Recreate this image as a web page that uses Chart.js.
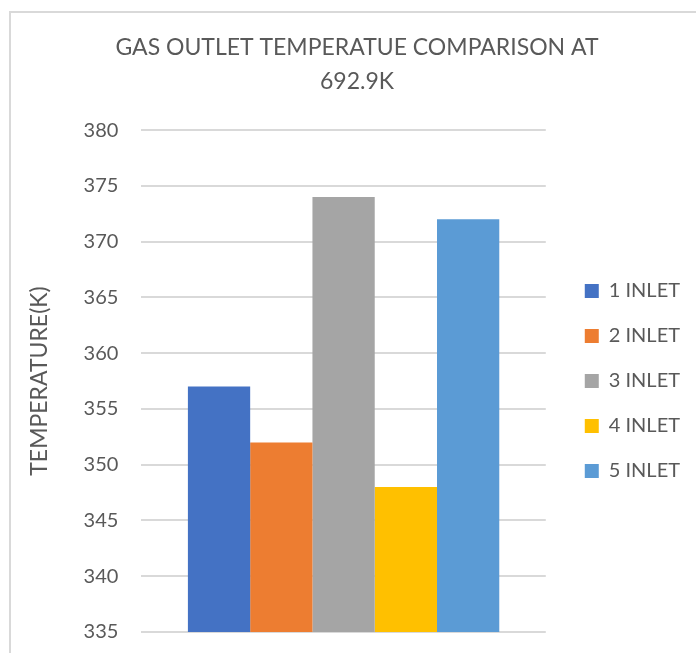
<!DOCTYPE html>
<html>
<head>
<meta charset="utf-8">
<script src="https://cdn.jsdelivr.net/npm/chart.js@4.4.0/dist/chart.umd.min.js"></script>
<style>
    body { margin: 0; overflow: hidden; background: #fff; }
    #frame {
        position: absolute; left: 9px; top: 11px;
        width: 800px; height: 800px;
        border: 2px solid #d9d9d9;
    }
    #wrap { position: absolute; left: 0; top: 0; width: 696px; height: 653px; }
</style>
</head>
<body>
<div id="frame"></div>
<div id="wrap"><canvas id="gasChart"></canvas></div>
<script>
// chart data
const categories = [''];
const seriesNames = ['1 INLET', '2 INLET', '3 INLET', '4 INLET', '5 INLET'];
const seriesValues = [357, 352, 374, 348, 372];
const seriesColors = ['#4472C4', '#ED7D31', '#A5A5A5', '#FFC000', '#5B9BD5'];
const titleLines = ['GAS OUTLET TEMPERATUE COMPARISON AT', '692.9K'];
const yAxisTitle = 'TEMPERATURE(K)';
const yMin = 335;
const yMax = 380;
const yStep = 5;

const textColor = '#595959';
const fontFamily = 'Lato, "Open Sans", sans-serif';

// move the legend right of the plot and down next to it, and the title a
// little to the right, like the Excel original
const layoutShift = {
    id: 'layoutShift',
    afterLayout(chart) {
        chart.legend.left += 14;
        chart.legend.right += 14;
        chart.legend.top += 65;
        chart.legend.bottom += 65;
        chart.titleBlock.left += 12;
        chart.titleBlock.right += 12;
    }
};

const ctx = document.getElementById('gasChart').getContext('2d');

const gasChart = new Chart(ctx, {
    type: 'bar',
    data: {
        labels: categories,
        datasets: seriesNames.map((name, i) => ({
            label: name,
            data: [seriesValues[i]],
            backgroundColor: seriesColors[i],
            borderWidth: 0,
            categoryPercentage: 0.77,
            barPercentage: 1.0
        }))
    },
    options: {
        responsive: true,
        maintainAspectRatio: false,
        animation: false,
        layout: {
            padding: { left: 14, right: 20, top: 0, bottom: 21 }
        },
        plugins: {
            title: {
                display: true,
                text: titleLines,
                color: textColor,
                font: { family: fontFamily, size: 23, weight: 'normal', lineHeight: 1.48 },
                padding: { top: 31, bottom: 31 }
            },
            legend: {
                position: 'right',
                labels: {
                    color: textColor,
                    font: { family: fontFamily, size: 20 },
                    boxWidth: 14,
                    boxHeight: 14,
                    padding: 25
                }
            },
            tooltip: { enabled: false }
        },
        scales: {
            x: {
                display: false
            },
            y: {
                min: yMin,
                max: yMax,
                ticks: {
                    stepSize: yStep,
                    color: textColor,
                    font: { family: fontFamily, size: 20 },
                    padding: 0
                },
                grid: {
                    color: '#d9d9d9',
                    lineWidth: 2,
                    drawTicks: true,
                    tickLength: 23,
                    tickColor: 'rgba(0,0,0,0)'
                },
                border: { display: false },
                title: {
                    display: true,
                    text: yAxisTitle,
                    color: textColor,
                    font: { family: fontFamily, size: 23 },
                    padding: { top: 12, bottom: 30 }
                }
            }
        }
    },
    plugins: [layoutShift]
});
</script>
</body>
</html>
